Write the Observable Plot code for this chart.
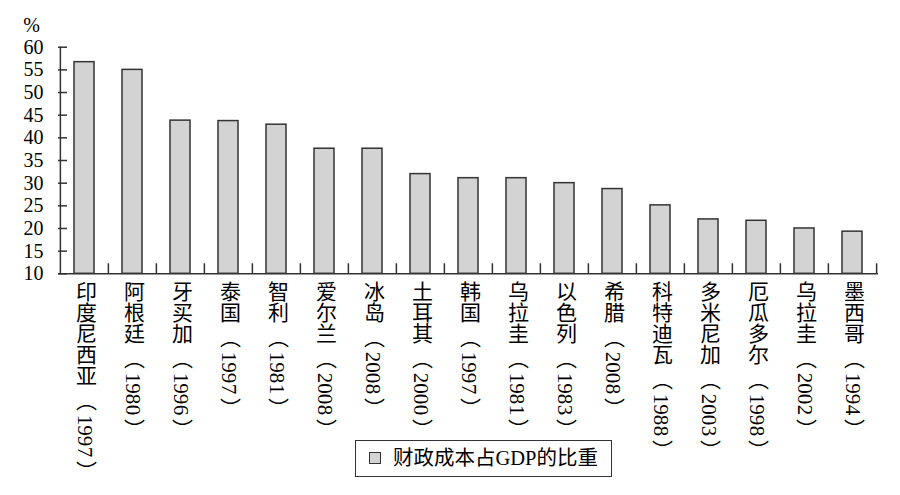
<!DOCTYPE html>
<html><head><meta charset="utf-8">
<script src="https://cdn.jsdelivr.net/npm/d3@7"></script>
<script src="https://cdn.jsdelivr.net/npm/@observablehq/plot@0.6"></script>
<style>
html,body{margin:0;padding:0;background:#fff;}
body{font-family:"Liberation Serif","Noto Sans CJK SC",serif;color:#000;}
#wrap{position:relative;width:900px;height:495px;overflow:hidden;}
#chart{position:absolute;left:0;top:0;}
#legend{position:absolute;left:355px;top:440px;width:257px;height:37px;border:1.5px solid #333;box-sizing:border-box;font-size:20.5px;background:#fff;}
#legend .sw{position:absolute;left:13px;top:11px;width:12px;height:12px;background:#d3d3d3;border:1.5px solid #333;box-sizing:border-box;}
#legend .lt{position:absolute;left:37px;top:4px;line-height:26px;white-space:nowrap;}
</style></head>
<body><div id="wrap"><div id="chart"></div></div>
<script>
const countries = ["印度尼西亚","阿根廷","牙买加","泰国","智利","爱尔兰","冰岛","土耳其","韩国","乌拉圭","以色列","希腊","科特迪瓦","多米尼加","厄瓜多尔","乌拉圭","墨西哥"];
const years = ["1997","1980","1996","1997","1981","2008","2008","2000","1997","1981","1983","2008","1988","2003","1998","2002","1994"];
const values = [56.7,55.0,43.8,43.7,42.9,37.6,37.6,32.0,31.1,31.1,30.0,28.7,25.1,22.0,21.7,20.0,19.3];
const yTicks = [10,15,20,25,30,35,40,45,50,55,60];
const seriesName = "财政成本占GDP的比重";
const unitLabel = "%";

const labels = countries.map((c,i) => c + "（" + years[i] + "）");
const data = labels.map((l,i) => ({label: l, value: values[i]}));

const W = 900, H = 495, mL = 58, mR = 22, mT = 46.7, mB = 221.7;
const step = (W - mL - mR) / labels.length;
const frameH = H - mT - mB;
const frameW = W - mL - mR;
const axisStroke = {stroke: "#333", strokeWidth: 1.5};

const chart = Plot.plot({
  width: W, height: H,
  marginLeft: mL, marginRight: mR, marginTop: mT, marginBottom: mB,
  style: {fontFamily: "'Liberation Serif','Noto Sans CJK SC',serif", fontSize: "20px", color: "#000", background: "transparent"},
  x: {domain: labels, paddingInner: 0.593, paddingOuter: 0.2965, axis: null},
  y: {domain: [10, 60], axis: null},
  marks: [
    Plot.barY(data, {x: "label", y1: () => 10, y2: "value", fill: "#d3d3d3", ...axisStroke}),
    // inward y ticks
    Plot.ruleY(yTicks, {y: d => d, ...axisStroke, insetRight: frameW - 9}),
    Plot.axisY({ticks: yTicks, tickSize: 0, tickPadding: 15, fontSize: 20, label: null}),
    // category boundary ticks (pointing up from the baseline)
    Plot.ruleX(labels.slice(1), {x: d => d, dx: -step/2, ...axisStroke, insetTop: frameH - 10}),
    Plot.ruleX(labels.slice(-1), {x: d => d, dx: step/2, ...axisStroke, insetTop: frameH - 10}),
    // y axis line
    Plot.ruleX(labels.slice(0, 1), {x: d => d, dx: -step/2, ...axisStroke}),
    // x axis line
    Plot.ruleY([10], axisStroke),
    Plot.text(labels, {x: d => d, text: d => d, frameAnchor: "bottom", textAnchor: "start", lineAnchor: "top", dy: 7, fontSize: 21}),
    Plot.text([unitLabel], {frameAnchor: "top-left", text: d => d, textAnchor: "middle", lineAnchor: "bottom", dx: -27, dy: -15, fontSize: 20})
  ]
});

// vertical category labels (CJK upright, digits rotated), a little air round the brackets
const SVGNS = "http://www.w3.org/2000/svg";
const tgs = chart.querySelectorAll("g[aria-label='text']");
if (tgs[0]) {
  tgs[0].querySelectorAll("text").forEach((t, i) => {
    t.removeAttribute("y");
    t.style.writingMode = "vertical-rl";
    const c = countries[i], yr = years[i];
    t.textContent = "";
    const parts = [
      [c.slice(0, -1), 0], [c.slice(-1), 4], ["（", 4], [yr.slice(0, -1), 0], [yr.slice(-1), 4], ["）", 0]
    ];
    parts.forEach(([s, ls]) => {
      const sp = document.createElementNS(SVGNS, "tspan");
      sp.textContent = s;
      if (ls) sp.style.letterSpacing = ls + "px";
      t.appendChild(sp);
    });
  });
}
document.getElementById("chart").appendChild(chart);

const lg = document.createElement("div");
lg.id = "legend";
lg.innerHTML = '<div class="sw"></div><div class="lt"></div>';
lg.querySelector(".lt").textContent = seriesName;
document.getElementById("wrap").appendChild(lg);
</script>
</body></html>
